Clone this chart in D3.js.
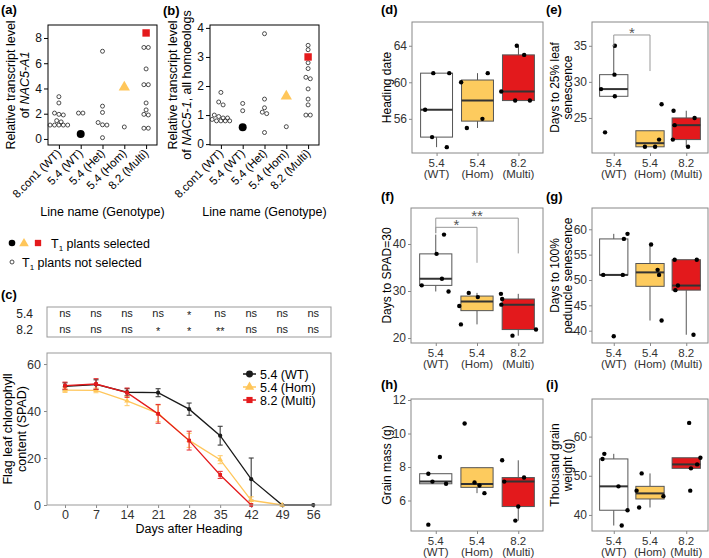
<!DOCTYPE html>
<html>
<head>
<meta charset="utf-8">
<script src="https://cdn.jsdelivr.net/npm/d3@7"></script>
<style>
body { margin: 0; background: #fff; }
svg { font-family: "Liberation Sans", Arial, sans-serif; }
</style>
</head>
<body>
<div id="chart"></div>
<script>
// ---- data ----
var lineNames = ["8.con1 (WT)", "5.4 (WT)", "5.4 (Het)", "5.4 (Hom)", "8.2 (Multi)"];

// (a) NAC5-A1, open circles per line, and the selected T1 plant
var nacA1Open = [
  [3.35, 2.85, 2.05, 1.95, 1.9, 1.45, 1.35, 1.1, 1.1, 1.1, 1.1, 1.1],
  [2.05, 2.05],
  [6.95, 2.6, 2.1, 1.3, 1.12, 1.1, 0.1],
  [0.95],
  [7.25, 7.25, 5.55, 4.3, 4.3, 2.85, 2.3, 1.95, 1.9, 0.85, 0.85]
];
var nacA1Sel = [null, 0.4, null, 4.1, 8.4];

// (b) NAC5-1 all homoeologs
var nac1Open = [
  [1.78, 1.45, 1.35, 1.0, 0.95, 0.9, 0.9, 0.85, 0.8, 0.8, 0.8, 0.8],
  [1.4, 1.15],
  [3.8, 1.55, 1.25, 1.1, 1.05, 0.4],
  [0.6],
  [3.4, 3.25, 2.8, 2.6, 2.3, 2.25, 1.9, 1.55, 1.35, 1.0, 1.0]
];
var nac1Sel = [null, 0.58, null, 1.65, 3.0];

// (c) SPAD time course
var days = [0, 7, 14, 21, 28, 35, 42, 49, 56];
var spadWT = [50.5, 51.3, 48, 47.8, 40.8, 29.5, 11, 0, 0];
var spadWTse = [1.5, 2, 1.5, 1.7, 2.6, 4, 9, 0, 0];
var spadHom = [48.9, 48.8, 44.3, 39, 27.5, 19.3, 2, 0, null];
var spadHomSe = [1, 1, 2, 3.5, 3, 1.7, 1.5, 0, null];
var spadMulti = [50.8, 51.5, 47.8, 38.8, 27.4, 12.8, 0, null, null];
var spadMultiSe = [1.5, 2.3, 2, 4, 4, 1.5, 0, null, null];
var sig54 = ["ns", "ns", "ns", "ns", "*", "ns", "ns", "ns", "ns"];
var sig82 = ["ns", "ns", "ns", "*", "*", "**", "ns", "ns", "ns"];
var seriesNames = ["5.4 (WT)", "5.4 (Hom)", "8.2 (Multi)"];

// (d)-(i) boxplots: values per genotype + horizontal jitter (fraction of band)
var genoKeys = ["WT", "Hom", "Multi"];
var genoTop = ["5.4", "5.4", "8.2"];
var genoBottom = ["(WT)", "(Hom)", "(Multi)"];

var heading = [[61, 61, 57, 54, 52.9], [60, 61, 56, 55], [64, 63, 59, 58, 58]];
var headingJit = [[-0.08, 0.31, -0.28, -0.11, 0.25], [-0.40, 0.25, 0.12, -0.26], [-0.04, 0.14, -0.42, -0.08, 0.28]];

var senes25 = [[35, 31, 29, 28, 23], [26.9, 22, 21, 21], [26, 25, 24, 22, 21]];
var senes25Jit = [[0.03, 0.02, -0.35, 0.03, -0.24], [0.32, 0.25, -0.14, 0.14], [-0.35, 0.23, -0.32, -0.37, 0.05]];

var spad30 = [[42, 37.9, 32.6, 31.2, 29.9], [29.6, 28.7, 26.8, 22.9], [29.4, 28.3, 27.1, 21.8, 20.5]];
var spad30Jit = [[0.2, 0.02, 0.15, -0.34, 0.31], [-0.2, 0.02, -0.43, -0.39], [-0.42, -0.39, -0.41, 0.43, -0.14]];

var ped100 = [[59.1, 58.1, 51, 51, 38.9], [57, 52, 51, 42], [54, 54, 48.9, 48, 39.2]];
var ped100Jit = [[0.38, 0.28, -0.29, 0.25, 0], [0.03, 0.21, 0.25, 0.32], [-0.32, 0.29, -0.23, -0.3, 0.2]];

var grain = [[8.6, 7.6, 7.13, 7.0, 4.56], [10.6, 7.08, 6.9, 6.44], [8.4, 7.37, 7.13, 5.64, 4.8]];
var grainJit = [[0.1, -0.18, -0.08, 0.25, -0.18], [-0.3, -0.06, 0.06, 0.18], [-0.39, 0.14, -0.34, 0, -0.07]];

var tgw = [[55.6, 54.3, 47.3, 41.2, 37.3], [50.6, 46.2, 44.8, 41.9], [63.5, 54.6, 52.9, 51.9, 46.2]];
var tgwJit = [[-0.26, -0.31, 0.13, 0.38, 0.22], [-0.23, -0.37, 0.37, -0.3], [0.08, 0.39, 0.3, 0.13, 0.11]];

// significance brackets (group index, bar level, leg ends in data units)
var senes25Sig = [{from: 0, to: 1, top: 36.5, left: 34.9, right: 31.5, label: "*"}];
var spad30Sig = [
  {from: 0, to: 1, top: 43.55, left: 42.3, right: 36, label: "*"},
  {from: 0, to: 2, top: 45.5, left: 42.3, right: 38, label: "**"}
];

// ---- colours ----
var colWT = "#1a1a1a";
var colHom = "#FFC65A";
var colMulti = "#E41A1C";
var boxFill = ["#ffffff", "#FDCB5E", "#E3191C"];

var svg = d3.select("#chart").append("svg")
  .attr("width", 709)
  .attr("height", 558);

function panelLabel(t, x, y) {
  svg.append("text")
    .attr("x", x).attr("y", y)
    .attr("font-size", 13)
    .attr("font-weight", "bold")
    .text(t);
}

// ---------- (a) and (b) ----------
function drawTranscript(cfg) {
  var x = d3.scalePoint().domain(lineNames).range([cfg.x0, cfg.x1]).padding(0.5);
  var y = d3.scaleLinear().domain(cfg.domain).range([cfg.y1, cfg.y0]);
  var g = svg.append("g");

  g.append("g")
    .attr("transform", "translate(" + cfg.x0 + ",0)")
    .call(d3.axisLeft(y).tickValues(cfg.ticks).tickFormat(d3.format("d")).tickSize(4).tickPadding(2))
    .call(function(a) { a.select(".domain").remove(); })
    .selectAll("text").attr("font-size", 12).attr("fill", "#111");

  var xa = g.append("g")
    .attr("transform", "translate(0," + cfg.y1 + ")")
    .call(d3.axisBottom(x).tickSize(4).tickFormat(""));
  xa.select(".domain").remove();

  g.selectAll(".xl")
    .data(lineNames)
    .enter()
    .append("text")
    .attr("font-size", 11.5)
    .attr("text-anchor", "end")
    .attr("transform", function(d) {
      return "translate(" + (x(d) + 3) + "," + (cfg.y1 + 9) + ") rotate(-45)";
    })
    .text(function(d) { return d; });

  g.append("rect")
    .attr("x", cfg.x0).attr("y", cfg.y0)
    .attr("width", cfg.x1 - cfg.x0).attr("height", cfg.y1 - cfg.y0)
    .attr("fill", "none").attr("stroke", "#000");

  // open circles, packed into rows around each tick
  var r = 2, gap = 4.4;
  cfg.open.forEach(function(vals, i) {
    var cx = x(lineNames[i]);
    var sorted = vals.slice().sort(d3.descending);
    var rows = [];
    sorted.forEach(function(v) {
      var py = y(v);
      var row = rows[rows.length - 1];
      if (row && Math.abs(py - row.start) < 2 * r * 0.9) row.pts.push(py);
      else rows.push({start: py, pts: [py]});
    });
    rows.forEach(function(row) {
      var n = row.pts.length;
      row.pts.forEach(function(py, k) {
        g.append("circle")
          .attr("cx", cx + (k - (n - 1) / 2) * gap)
          .attr("cy", py)
          .attr("r", r)
          .attr("fill", "none")
          .attr("stroke", "#222")
          .attr("stroke-width", 0.8);
      });
    });
  });

  var shapes = [null, d3.symbolCircle, null, d3.symbolTriangle, d3.symbolSquare];
  var fills = [null, "#000", null, colHom, colMulti];
  var sizes = [0, 50, 0, 55, 55];
  cfg.sel.forEach(function(v, i) {
    if (v === null) return;
    g.append("path")
      .attr("d", d3.symbol().type(shapes[i]).size(sizes[i]))
      .attr("transform", "translate(" + x(lineNames[i]) + "," + y(v) + ")")
      .attr("fill", fills[i]);
  });

  var yl = g.append("text")
    .attr("text-anchor", "middle")
    .attr("font-size", 12.5)
    .attr("transform", "translate(" + cfg.labelX + "," + ((cfg.y0 + cfg.y1) / 2) + ") rotate(-90)");
  yl.append("tspan").attr("x", 0).attr("dy", 0).text("Relative transcript level");
  yl.append("tspan").attr("x", 0).attr("dy", 13.5).text("of ");
  yl.append("tspan").attr("font-style", "italic").text(cfg.gene);
  if (cfg.geneTail) yl.append("tspan").text(cfg.geneTail);

  g.append("text")
    .attr("x", (cfg.x0 + cfg.x1) / 2)
    .attr("y", 216)
    .attr("text-anchor", "middle")
    .attr("font-size", 12.5)
    .text("Line name (Genotype)");
}

drawTranscript({x0: 48, x1: 157, y0: 25, y1: 145, domain: [-0.48, 9.03], ticks: [0, 2, 4, 6, 8],
  open: nacA1Open, sel: nacA1Sel, labelX: 15, gene: "NAC5-A1"});
drawTranscript({x0: 210, x1: 319, y0: 25, y1: 145, domain: [-0.03, 4.1], ticks: [0, 1, 2, 3, 4],
  open: nac1Open, sel: nac1Sel, labelX: 177, gene: "NAC5-1", geneTail: ", all homoeologs"});
panelLabel("(a)", 1, 14);
panelLabel("(b)", 163, 15);

// legend for (a)/(b)
var leg = svg.append("g");
leg.append("circle").attr("cx", 12).attr("cy", 243).attr("r", 3.3).attr("fill", "#000");
leg.append("path").attr("d", d3.symbol().type(d3.symbolTriangle).size(40))
  .attr("transform", "translate(24,243.5)").attr("fill", colHom);
leg.append("path").attr("d", d3.symbol().type(d3.symbolSquare).size(40))
  .attr("transform", "translate(38,243)").attr("fill", colMulti);
leg.append("circle").attr("cx", 12).attr("cy", 262).attr("r", 2)
  .attr("fill", "none").attr("stroke", "#222").attr("stroke-width", 0.8);
function t1Text(x, y, rest) {
  var t = leg.append("text").attr("x", x).attr("y", y).attr("font-size", 12.5);
  t.append("tspan").text("T");
  t.append("tspan").attr("font-size", 8).attr("dy", 3).text("1");
  t.append("tspan").attr("dy", -3).text(rest);
}
t1Text(51, 247.5, " plants selected");
t1Text(22, 266.5, " plants not selected");

// ---------- (c) ----------
panelLabel("(c)", 1, 299);
var cx0 = 47, cx1 = 331, cy0 = 353, cy1 = 505;
var xDay = d3.scaleLinear().domain([-4.06, 60]).range([cx0, cx1]);
var ySpad = d3.scaleLinear().domain([0, 64.7]).range([cy1, cy0]);

svg.append("rect").attr("x", cx0).attr("y", 307).attr("width", cx1 - cx0).attr("height", 30)
  .attr("fill", "none").attr("stroke", "#999");
[["5.4", sig54, 318], ["8.2", sig82, 334]].forEach(function(row) {
  svg.append("text").attr("x", 33).attr("y", row[2]).attr("text-anchor", "end")
    .attr("font-size", 12).attr("fill", "#222").text(row[0]);
  svg.selectAll(null)
    .data(row[1])
    .enter()
    .append("text")
    .attr("x", function(d, i) { return xDay(days[i]); })
    .attr("y", function(d) { return d === "ns" ? row[2] - 1 : row[2] + 1; })
    .attr("text-anchor", "middle")
    .attr("font-size", 11)
    .attr("fill", "#222")
    .text(function(d) { return d; });
});

var cAxisX = svg.append("g")
  .attr("transform", "translate(0," + cy1 + ")")
  .call(d3.axisBottom(xDay).tickValues(days).tickSize(3).tickPadding(2));
cAxisX.select(".domain").remove();
cAxisX.selectAll("line").attr("stroke", "#888");
cAxisX.selectAll("text").attr("font-size", 12.5).attr("fill", "#333");

var cAxisY = svg.append("g")
  .attr("transform", "translate(" + cx0 + ",0)")
  .call(d3.axisLeft(ySpad).tickValues([0, 20, 40, 60]).tickSize(3).tickPadding(3));
cAxisY.select(".domain").remove();
cAxisY.selectAll("line").attr("stroke", "#888");
cAxisY.selectAll("text").attr("font-size", 12.5).attr("fill", "#333");

var series = [
  {name: seriesNames[0], vals: spadWT, se: spadWTse, col: colWT, shape: d3.symbolCircle},
  {name: seriesNames[1], vals: spadHom, se: spadHomSe, col: colHom, shape: d3.symbolTriangle},
  {name: seriesNames[2], vals: spadMulti, se: spadMultiSe, col: colMulti, shape: d3.symbolSquare}
];
var line = d3.line()
  .defined(function(d) { return d.v !== null; })
  .x(function(d) { return xDay(d.day); })
  .y(function(d) { return ySpad(d.v); });

series.forEach(function(s) {
  var pts = days.map(function(d, i) { return {day: d, v: s.vals[i], se: s.se[i]}; });
  var gs = svg.append("g");
  gs.append("path").datum(pts).attr("d", line)
    .attr("fill", "none").attr("stroke", s.col).attr("stroke-width", 1.3);
  pts.filter(function(p) { return p.v !== null && p.se > 0; }).forEach(function(p) {
    var xx = xDay(p.day), yt = ySpad(p.v + p.se), yb = ySpad(Math.max(0, p.v - p.se));
    var eb = gs.append("g").attr("stroke", s.col).attr("stroke-width", 1.1).attr("opacity", 0.85);
    eb.append("line").attr("x1", xx).attr("x2", xx).attr("y1", yt).attr("y2", yb);
    eb.append("line").attr("x1", xx - 2.5).attr("x2", xx + 2.5).attr("y1", yt).attr("y2", yt);
    eb.append("line").attr("x1", xx - 2.5).attr("x2", xx + 2.5).attr("y1", yb).attr("y2", yb);
  });
  gs.selectAll("path.pt")
    .data(pts.filter(function(p) { return p.v !== null; }))
    .enter()
    .append("path")
    .attr("class", "pt")
    .attr("d", d3.symbol().type(s.shape).size(14))
    .attr("transform", function(p) { return "translate(" + xDay(p.day) + "," + ySpad(p.v) + ")"; })
    .attr("fill", s.col);
});

svg.append("rect").attr("x", cx0).attr("y", cy0).attr("width", cx1 - cx0).attr("height", cy1 - cy0)
  .attr("fill", "none").attr("stroke", "#999");

series.forEach(function(s, i) {
  var ly = 374 + i * 13;
  svg.append("line").attr("x1", 243).attr("x2", 256).attr("y1", ly).attr("y2", ly)
    .attr("stroke", s.col).attr("stroke-width", 1.5);
  svg.append("path").attr("d", d3.symbol().type(s.shape).size(38))
    .attr("transform", "translate(249.5," + ly + ")").attr("fill", s.col);
  svg.append("text").attr("x", 260).attr("y", ly + 4.5).attr("font-size", 12.5).text(s.name);
});

svg.append("text").attr("x", (cx0 + cx1) / 2).attr("y", 533).attr("text-anchor", "middle")
  .attr("font-size", 12.5).text("Days after Heading");
var cyl = svg.append("text").attr("text-anchor", "middle").attr("font-size", 12.5)
  .attr("transform", "translate(12," + ((cy0 + cy1) / 2) + ") rotate(-90)");
cyl.append("tspan").attr("x", 0).attr("dy", 0).text("Flag leaf chlorophyll");
cyl.append("tspan").attr("x", 0).attr("dy", 14).text("content (SPAD)");

// ---------- (d)-(i) boxplots ----------
function boxStats(vals) {
  var s = vals.slice().sort(d3.ascending);
  var q1 = d3.quantile(s, 0.25), med = d3.quantile(s, 0.5), q3 = d3.quantile(s, 0.75);
  var iqr = q3 - q1;
  var inside = s.filter(function(v) { return v >= q1 - 1.5 * iqr - 1e-9 && v <= q3 + 1.5 * iqr + 1e-9; });
  return {q1: q1, med: med, q3: q3, lo: d3.min(inside), hi: d3.max(inside)};
}

function drawBoxPanel(cfg) {
  var x = d3.scalePoint().domain(genoKeys).range([cfg.x0, cfg.x1]).padding(0.6);
  var bw = x.step() * 0.78;
  var y = d3.scaleLinear().domain(cfg.domain).range([cfg.y1, cfg.y0]);
  var g = svg.append("g");

  var ya = g.append("g")
    .attr("transform", "translate(" + cfg.x0 + ",0)")
    .call(d3.axisLeft(y).tickValues(cfg.ticks).tickSize(3).tickPadding(2));
  ya.select(".domain").remove();
  ya.selectAll("line").attr("stroke", "#888");
  ya.selectAll("text").attr("font-size", 12).attr("fill", "#333");

  var xa = g.append("g")
    .attr("transform", "translate(0," + cfg.y1 + ")")
    .call(d3.axisBottom(x).tickSize(3).tickFormat(""));
  xa.select(".domain").remove();
  xa.selectAll("line").attr("stroke", "#888");

  genoKeys.forEach(function(k, i) {
    g.append("text").attr("x", x(k)).attr("y", cfg.y1 + 13.5).attr("text-anchor", "middle")
      .attr("font-size", 11.5).attr("fill", "#333").text(genoTop[i]);
    g.append("text").attr("x", x(k)).attr("y", cfg.y1 + 25).attr("text-anchor", "middle")
      .attr("font-size", 11.5).attr("fill", "#333").text(genoBottom[i]);
  });

  cfg.vals.forEach(function(vals, i) {
    var st = boxStats(vals), cx = x(genoKeys[i]);
    g.append("line").attr("x1", cx).attr("x2", cx).attr("y1", y(st.q3)).attr("y2", y(st.hi))
      .attr("stroke", "#555").attr("stroke-width", 1);
    g.append("line").attr("x1", cx).attr("x2", cx).attr("y1", y(st.q1)).attr("y2", y(st.lo))
      .attr("stroke", "#555").attr("stroke-width", 1);
    g.append("rect")
      .attr("x", cx - bw / 2).attr("width", bw)
      .attr("y", y(st.q3)).attr("height", y(st.q1) - y(st.q3))
      .attr("fill", boxFill[i]).attr("stroke", "#555").attr("stroke-width", 1);
    g.append("line").attr("x1", cx - bw / 2).attr("x2", cx + bw / 2)
      .attr("y1", y(st.med)).attr("y2", y(st.med))
      .attr("stroke", "#333").attr("stroke-width", 2);
  });

  cfg.vals.forEach(function(vals, i) {
    g.selectAll(null)
      .data(vals)
      .enter()
      .append("circle")
      .attr("cx", function(d, j) { return x(genoKeys[i]) + cfg.jit[i][j] * x.step(); })
      .attr("cy", function(d) { return y(d); })
      .attr("r", 2.2)
      .attr("fill", "#000");
  });

  (cfg.sig || []).forEach(function(s) {
    var xa0 = x(genoKeys[s.from]), xa1 = x(genoKeys[s.to]);
    g.append("path")
      .attr("d", "M" + xa0 + "," + y(s.left) + "V" + y(s.top) + "H" + xa1 + "V" + y(s.right))
      .attr("fill", "none").attr("stroke", "#999").attr("stroke-width", 1);
    g.append("text").attr("x", (xa0 + xa1) / 2).attr("y", y(s.top) + 3)
      .attr("text-anchor", "middle").attr("font-size", 15).attr("fill", "#555").text(s.label);
  });

  g.append("rect")
    .attr("x", cfg.x0).attr("y", cfg.y0)
    .attr("width", cfg.x1 - cfg.x0).attr("height", cfg.y1 - cfg.y0)
    .attr("fill", "none").attr("stroke", "#888");

  var yl = g.append("text").attr("text-anchor", "middle").attr("font-size", 12)
    .attr("transform", "translate(" + cfg.labelX + "," + ((cfg.y0 + cfg.y1) / 2) + ") rotate(-90)");
  cfg.label.forEach(function(t, k) {
    yl.append("tspan").attr("x", 0).attr("dy", k === 0 ? 0 : 12.5).text(t);
  });
}

drawBoxPanel({x0: 412, x1: 543, y0: 22, y1: 153, domain: [52.26, 66.6], ticks: [56, 60, 64],
  vals: heading, jit: headingJit, label: ["Heading date"], labelX: 391});
drawBoxPanel({x0: 592, x1: 708, y0: 22, y1: 153, domain: [20.14, 38.3], ticks: [25, 30, 35],
  vals: senes25, jit: senes25Jit, label: ["Days to 25% leaf", "senescence"], labelX: 559, sig: senes25Sig});
drawBoxPanel({x0: 411, x1: 543, y0: 208, y1: 343, domain: [18.94, 47.66], ticks: [20, 30, 40],
  vals: spad30, jit: spad30Jit, label: ["Days to SPAD=30"], labelX: 391, sig: spad30Sig});
drawBoxPanel({x0: 592, x1: 708, y0: 208, y1: 343, domain: [37.57, 64.2], ticks: [40, 45, 50, 55, 60],
  vals: ped100, jit: ped100Jit, label: ["Days to 100%", "peduncle senescence"], labelX: 559});
drawBoxPanel({x0: 411, x1: 543, y0: 399, y1: 531, domain: [4.18, 12.06], ticks: [6, 8, 10, 12],
  vals: grain, jit: grainJit, label: ["Grain mass (g)"], labelX: 391});
drawBoxPanel({x0: 592, x1: 708, y0: 399, y1: 531, domain: [35.9, 69.6], ticks: [40, 50, 60],
  vals: tgw, jit: tgwJit, label: ["Thousand grain", "weight (g)"], labelX: 559});

panelLabel("(d)", 381, 14);
panelLabel("(e)", 546, 14);
panelLabel("(f)", 381, 201);
panelLabel("(g)", 546, 201);
panelLabel("(h)", 381, 389);
panelLabel("(i)", 546, 389);
</script>
</body>
</html>
